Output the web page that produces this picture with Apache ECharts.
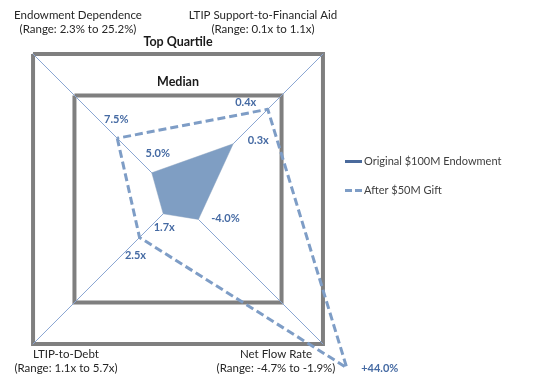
<!DOCTYPE html>
<html>
<head>
<meta charset="utf-8">
<script src="https://cdn.jsdelivr.net/npm/echarts@6/dist/echarts.min.js"></script>
<style>html,body{margin:0;padding:0;background:#fff}#c{width:546px;height:390px}</style>
</head>
<body>
<div id="c"></div>
<script>
// Radar axes (order: counter-clockwise from top-left)
const indicatorNames = ['Endowment Dependence', 'LTIP-to-Debt', 'Net Flow Rate', 'LTIP Support-to-Financial Aid'];
const rangeLabels = ['(Range: 2.3% to 25.2%)', '(Range: 1.1x to 5.7x)', '(Range: -4.7% to -1.9%)', '(Range: 0.1x to 1.1x)'];
const axisMin = [3.1, 1.2, -10.6, 0.14];
const axisMax = [13.6, 6.1, 36.3, 0.56];
const seriesNames = ['Original $100M Endowment', 'After $50M Gift'];
const originalValues = [5.0, 1.7, -4.0, 0.3];
const afterGiftValues = [7.5, 2.5, 44.0, 0.4];
const originalLabels = ['5.0%', '1.7x', '-4.0%', '0.3x'];
const afterGiftLabels = ['7.5%', '2.5x', '+44.0%', '0.4x'];
const levelNames = ['Top Quartile', 'Median'];

const FONT = 'Lato, "Open Sans", sans-serif';
const labelBlue = '#456aa3';
const origOffsets = [[6, -19], [1, 14], [27, -1], [25, -3]];
const giftOffsets = [[-1, -19], [-4, 18], [33, 1], [-22, -7]];

function labelSeries(values, texts, offsets, key) {
  return values.map(function (v, dim) {
    return {
      type: 'radar', silent: true, z: 6,
      symbol: 'circle', symbolSize: 1,
      itemStyle: { color: 'rgba(0,0,0,0)' },
      lineStyle: { width: 0, opacity: 0 },
      data: [{ value: values, name: key + dim }],
      label: {
        show: true, position: 'inside', offset: offsets[dim],
        color: labelBlue, fontFamily: FONT, fontWeight: 'bold', fontSize: 11,
        formatter: function (p) {
          const match = (p.dimensionIndex != null) ? p.dimensionIndex === dim : p.value === values[dim];
          return match ? texts[dim] : '';
        }
      }
    };
  });
}

const levelColors = ['rgba(0,0,0,0)', 'rgba(0,0,0,0)', 'rgba(0,0,0,0)', 'rgba(0,0,0,0)', 'rgba(0,0,0,0)', '#7f7f7f', 'rgba(0,0,0,0)', '#7f7f7f'];

const axisTitlePos = [[78, 8], [66, 347], [276, 347], [263, 8]];

const chart = echarts.init(document.getElementById('c'), null, { renderer: 'canvas' });
chart.setOption({
  animation: false,
  backgroundColor: '#ffffff',
  radar: {
    center: [178, 199],
    radius: 205,
    startAngle: 135,
    splitNumber: 7,
    shape: 'polygon',
    indicator: indicatorNames.map(function (n, i) { return { name: n, min: axisMin[i], max: axisMax[i] }; }),
    axisName: { show: false },
    axisLine: { lineStyle: { color: '#8aa6d3', width: 1 } },
    axisTick: { show: false },
    axisLabel: { show: false },
    splitLine: { lineStyle: { color: levelColors, width: 4 } },
    splitArea: { show: false }
  },
  legend: {
    orient: 'vertical', left: 340, top: 151, itemGap: 18,
    itemWidth: 17, itemHeight: 3, selectedMode: false,
    textStyle: { fontFamily: FONT, fontSize: 11, color: '#404040', padding: [0, 0, 0, -3] },
    data: [
      { name: seriesNames[0], icon: 'rect', itemStyle: { color: '#4a6a9c', borderWidth: 0 } },
      { name: seriesNames[1], icon: 'path://M0,0h7v3h-7z M10,0h7v3h-7z', itemStyle: { color: '#7e9dc6', borderWidth: 0 } }
    ]
  },
  graphic: axisTitlePos.map(function (p, i) {
    return {
      type: 'text', x: p[0], y: p[1], silent: true,
      style: { text: indicatorNames[i] + '\n' + rangeLabels[i], textAlign: 'center', textVerticalAlign: 'top',
        font: '11.5px ' + FONT, fill: '#262626', lineHeight: 14 }
    };
  }).concat([
    { type: 'text', x: 178, y: 42, silent: true,
      style: { text: levelNames[0], textAlign: 'center', textVerticalAlign: 'middle', font: 'bold 12.5px ' + FONT, fill: '#1a1a1a' } },
    { type: 'text', x: 178, y: 82, silent: true,
      style: { text: levelNames[1], textAlign: 'center', textVerticalAlign: 'middle', font: 'bold 12.5px ' + FONT, fill: '#1a1a1a' } }
  ]),
  series: [
    {
      type: 'radar', z: 3, symbol: 'none',
      data: [{ value: originalValues, name: seriesNames[0] }],
      lineStyle: { color: '#c9d2de', width: 1 },
      areaStyle: { color: '#7f9ec3', opacity: 1 },
      itemStyle: { color: '#4a6a9c' }
    },
    {
      type: 'radar', z: 4, symbol: 'none',
      data: [{ value: afterGiftValues, name: seriesNames[1] }],
      lineStyle: { color: '#7e9dc6', width: 3, type: [8, 4] },
      itemStyle: { color: '#7e9dc6' }
    }
  ].concat(labelSeries(originalValues, originalLabels, origOffsets, 'o'))
   .concat(labelSeries(afterGiftValues, afterGiftLabels, giftOffsets, 'g'))
});
</script>
</body>
</html>
